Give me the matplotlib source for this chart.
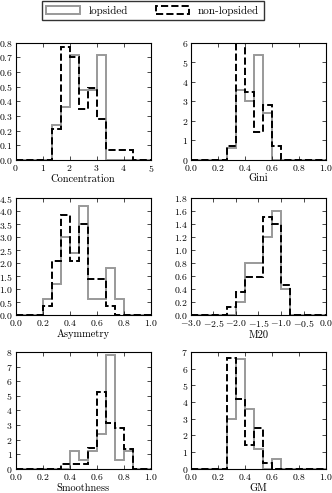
import numpy as np
import matplotlib
matplotlib.use("Agg")
import matplotlib.pyplot as plt
from matplotlib.patches import Rectangle
from matplotlib.ticker import MultipleLocator

plt.rcParams['font.family'] = 'cmr10'
plt.rcParams['mathtext.fontset'] = 'cm'
plt.rcParams['axes.formatter.use_mathtext'] = True
plt.rcParams['axes.unicode_minus'] = True

# per-bin heights (normalised), 15 bins over each range
conc_range = (0, 5)
conc_lop = [0, 0, 0, 0, 0.24, 0.36, 0.72, 0.48, 0.48, 0.72, 0, 0, 0, 0, 0]
conc_non = [0, 0, 0, 0, 0.21, 0.77, 0.70, 0.35, 0.49, 0.28, 0.07, 0.07, 0.07, 0, 0]

gini_range = (0, 1)
gini_lop = [0, 0, 0, 0, 0.6, 3.6, 3.0, 5.4, 2.4, 0, 0, 0, 0, 0, 0]
gini_non = [0, 0, 0, 0, 0.7, 6.0, 3.5, 1.4, 2.8, 0.7, 0, 0, 0, 0, 0]

asym_range = (0, 1)
asym_lop = [0, 0, 0, 0.6, 1.2, 3.0, 2.4, 4.2, 0.6, 0.6, 1.8, 0.6, 0, 0, 0]
asym_non = [0, 0, 0, 0.35, 2.1, 3.85, 2.1, 3.5, 1.4, 1.4, 0.35, 0, 0, 0, 0]

m20_range = (-3, 0)
m20_lop = [0, 0, 0, 0, 0, 0.2, 0.8, 0.8, 1.2, 1.6, 0.4, 0, 0, 0, 0]
m20_non = [0, 0, 0, 0, 0.12, 0.35, 0.58, 0.58, 1.51, 1.4, 0.47, 0, 0, 0, 0]

smooth_range = (0, 1)
smooth_lop = [0, 0, 0, 0, 0, 0, 1.2, 0.6, 1.2, 2.4, 7.8, 0.6, 1.2, 0, 0]
smooth_non = [0, 0, 0, 0, 0, 0.35, 0.35, 0.35, 1.4, 5.25, 3.15, 2.8, 1.35, 0, 0]

gm_range = (0, 1)
gm_lop = [0, 0, 0, 0, 3.0, 6.6, 3.6, 1.2, 0, 0.6, 0, 0, 0, 0, 0]
gm_non = [0, 0, 0, 0, 6.65, 4.2, 1.4, 2.45, 0.35, 0, 0, 0, 0, 0, 0]

panels = [
    ("Concentration", conc_range, conc_lop, conc_non, 0.8, 1, 0.1),
    ("Gini", gini_range, gini_lop, gini_non, 6, 0.2, 1),
    ("Asymmetry", asym_range, asym_lop, asym_non, 4.5, 0.2, 0.5),
    ("M20", m20_range, m20_lop, m20_non, 1.8, 0.5, 0.2),
    ("Smoothness", smooth_range, smooth_lop, smooth_non, 8, 0.2, 1),
    ("GM", gm_range, gm_lop, gm_non, 7, 0.2, 1),
]

fig = plt.figure(figsize=(3.32, 4.93), dpi=100)

lefts = [0.047, 0.575]
bottoms = [0.676, 0.361, 0.049]
w, h = 0.407, 0.237

lop_style = dict(edgecolor='0.6', lw=1.4, ls='-')
non_style = dict(edgecolor='k', lw=1.4, ls='--')

for i, (name, rng, lop, non, ymax, xstep, ystep) in enumerate(panels):
    ax = fig.add_axes([lefts[i % 2], bottoms[i // 2], w, h])
    edges = np.linspace(rng[0], rng[1], len(lop) + 1)
    ax.stairs(lop, edges, **lop_style)
    ax.stairs(non, edges, **non_style)
    ax.set_xlim(*rng)
    ax.set_ylim(0, ymax)
    ax.xaxis.set_major_locator(MultipleLocator(xstep))
    ax.yaxis.set_major_locator(MultipleLocator(ystep))
    ax.tick_params(direction='in', top=True, right=True, labelsize=7,
                   length=3, width=0.5, pad=2)
    for s in ax.spines.values():
        s.set_linewidth(0.8)
    ax.set_xlabel(name, fontsize=7.5, labelpad=1)

handles = [Rectangle((0, 0), 1, 1, fill=False, **lop_style),
           Rectangle((0, 0), 1, 1, fill=False, **non_style)]
fig.legend(handles, ['lopsided', 'non-lopsided'], loc='center',
           bbox_to_anchor=(0.46, 0.978), ncol=2, fontsize=8, frameon=True,
           fancybox=False, edgecolor='k', handlelength=3, columnspacing=2.5,
           borderpad=0.4)

fig.savefig("out.png", dpi=100)
